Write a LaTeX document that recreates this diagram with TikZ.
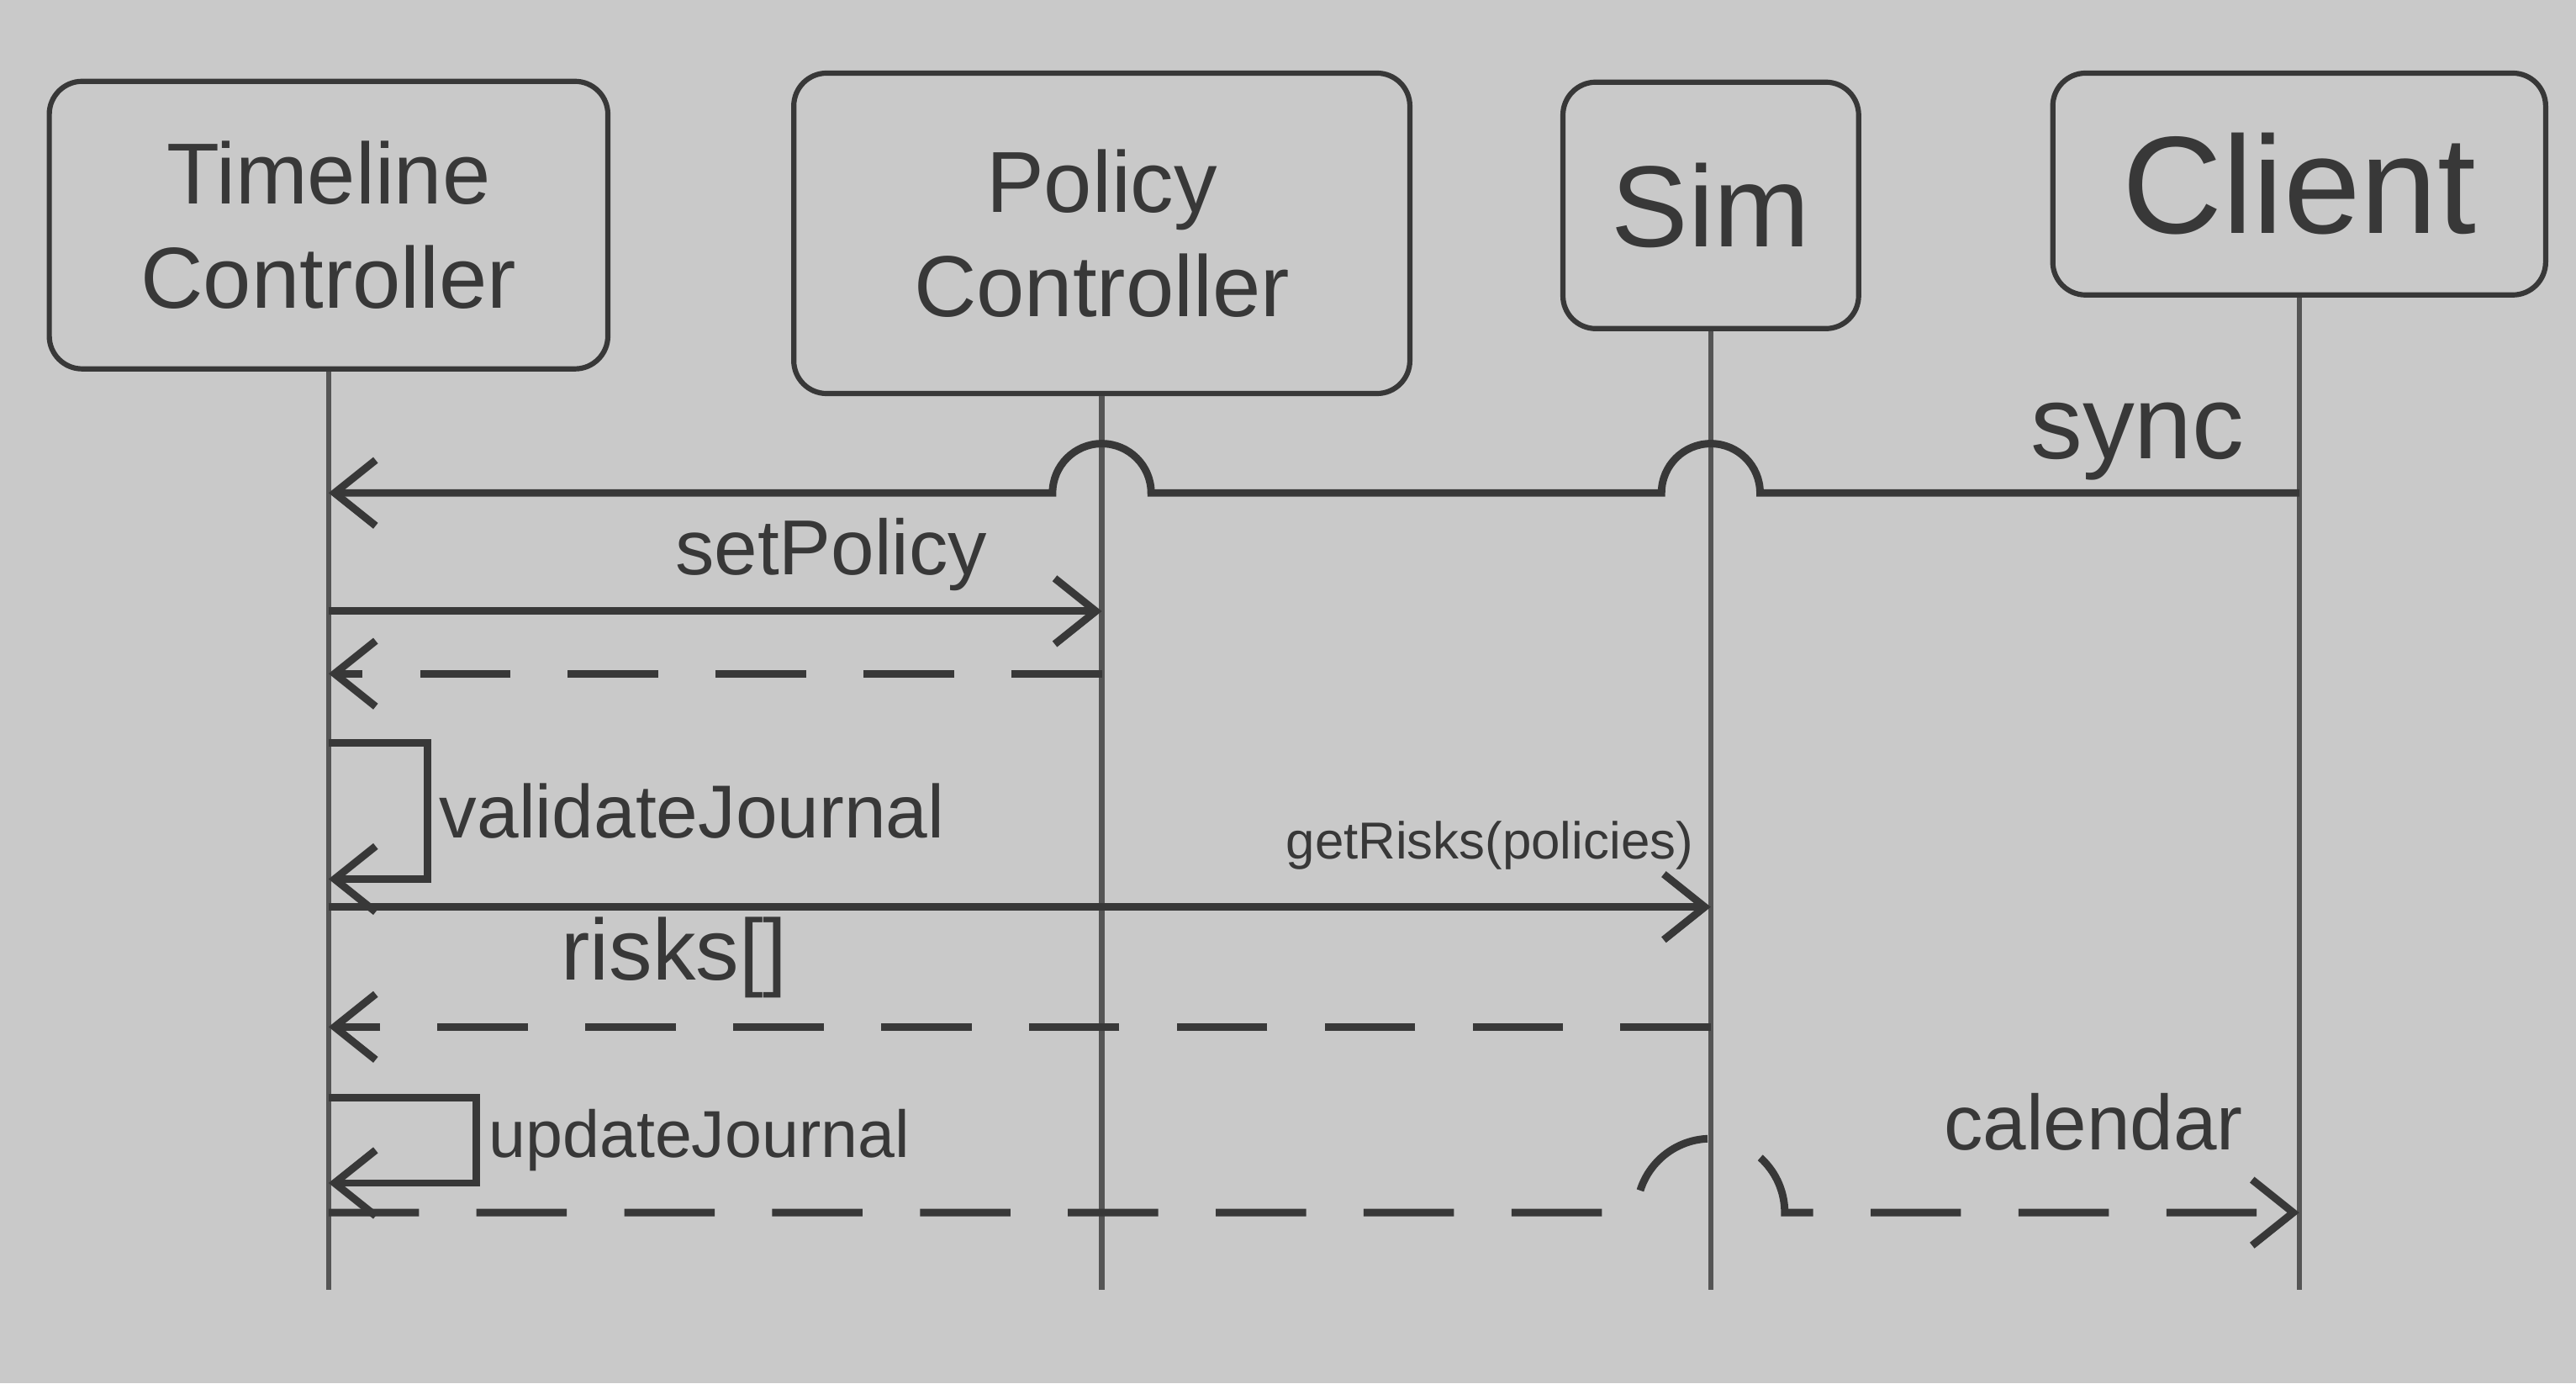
\documentclass[tikz,border=0pt]{standalone}
\usepackage{fontspec}
\setmainfont{Liberation Sans}
\usepackage{xcolor}
\usetikzlibrary{positioning}
\usetikzlibrary{arrows.meta}
\usetikzlibrary{calc}
\definecolor{board}{gray}{0.79}
\definecolor{ink}{gray}{0.22}
\tikzset{>={Straight Barb[length=5mm, width=8mm]}}

\begin{document}
\begin{tikzpicture}[
            x=0.2mm, y=0.2mm,
            actor/.style={rectangle, draw=ink, line width=1.8pt, rounded corners=4mm, align=center, text=ink, inner sep=4pt, font=\fontsize{30}{36}\selectfont},
            lifeline/.style={draw=ink!80!board, line width=1.8pt},
            call/.style={draw=ink, line width=2.6pt, ->},
            answer/.style={call, dash pattern=on 11mm off 7mm},
            msg/.style={text=ink, inner sep=3pt}
        ]
        \fill[board] (0,0) rectangle (1568,-842);
        \useasboundingbox (0,0) rectangle (1568,-842);
        % the four participants
        \node[actor, minimum width=68mm, minimum height=35mm] (timeline) at (200,-137) {Timeline\\Controller};
        \node[actor, minimum width=75mm, minimum height=39mm, right = 22mm of timeline, yshift=-1mm] (policy) {Policy\\Controller};
        \node[actor, minimum width=36mm, minimum height=30mm, right = 18mm of policy, yshift=3.4mm, font=\fontsize{40}{46}\selectfont] (sim) {Sim};
        \node[actor, minimum width=60mm, minimum height=27mm, right = 23mm of sim, yshift=2.6mm, font=\fontsize{48}{56}\selectfont] (client) {Client};
        \foreach \who in {timeline, policy, sim, client}
        {
            \coordinate (\who-end) at (\who.south |- 0,-785);
            \draw[lifeline] (\who) -- (\who-end);
            \foreach \row/\y in {sync/300, setp/372, setr/410, valtop/452, valbot/535, risk/552, riskr/625, updtop/668, updbot/720, cal/738}
                \coordinate (\who-\row) at (\who.south |- 0,-\y);
        }
        % messages
        \draw[call] (client-sync) -- node[msg, above, pos=0.3, font=\fontsize{36}{40}\selectfont] {sync} ($(sim-sync)+(30,0)$)
            arc[start angle=0, end angle=180, radius=30] -- ($(policy-sync)+(30,0)$)
            arc[start angle=0, end angle=180, radius=30] -- (timeline-sync);
        \draw[call] (timeline-setp) -- node[msg, above=1mm, pos=0.65, font=\fontsize{27}{30}\selectfont] {setPolicy} (policy-setp);
        \draw[answer] (policy-setr) -- (timeline-setr);
        \draw[call] (timeline-valtop) -- ++(60,0) |- node[msg, right, pos=0.25, font=\fontsize{26}{30}\selectfont] {validateJournal} (timeline-valbot);
        \draw[call] (timeline-risk) -- node[msg, above=3mm, pos=0.84, font=\fontsize{18}{22}\selectfont] {getRisks(policies)} (sim-risk);
        \draw[answer] (sim-riskr) -- node[msg, above=2mm, pos=0.75, font=\fontsize{30}{34}\selectfont] {risks[]} (timeline-riskr);
        \draw[call] (timeline-updtop) -- ++(90,0) |- node[msg, right, pos=0.25, font=\fontsize{23}{27}\selectfont] {updateJournal} (timeline-updbot);
        \draw[answer] (timeline-cal) -- ($(sim-cal)+(-45,0)$)
            arc[start angle=180, end angle=0, radius=45] -- node[msg, above=6mm, pos=0.6, font=\fontsize{27}{30}\selectfont] {calendar} (client-cal);
\end{tikzpicture}
\end{document}
